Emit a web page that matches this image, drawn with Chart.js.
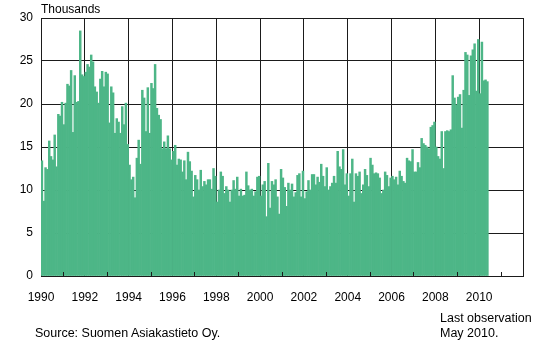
<!DOCTYPE html>
<html>
<head>
<meta charset="utf-8">
<script src="https://cdn.jsdelivr.net/npm/chart.js@4.4.0/dist/chart.umd.min.js"></script>
<style>
  html, body { margin: 0; padding: 0; background: #fff; }
  #wrap { position: relative; width: 548px; height: 344px; font-family: "Liberation Sans", Arial, sans-serif; color: #000; }
  #chart { position: absolute; left: 0; top: 0; }
  .note { position: absolute; font-size: 12.5px; line-height: 15px; white-space: nowrap; }
</style>
</head>
<body>
<div id="wrap">
  <canvas id="chart" width="548" height="344"></canvas>
  <div class="note" style="left:41px; top:2px; font-size:12px; line-height:14px;">Thousands</div>
  <div class="note" style="left:35px; top:326px;">Source: Suomen Asiakastieto Oy.</div>
  <div class="note" style="left:440px; top:311px;">Last observation<br>May 2010.</div>
</div>
<script>
// Monthly figures, thousands, Jan 1990 - May 2010
const v1990 = [13.4, 8.7, 12.6, 12.4, 15.7, 13.9, 13.5, 16.4, 12.7, 18.8, 18.6, 20.2];
const v1991 = [17.6, 20.1, 22.3, 22.1, 23.9, 16.7, 23.3, 20.2, 20.3, 28.5, 23.4, 23.2];
const v1992 = [23.7, 24.6, 24.3, 25.7, 24.9, 22.0, 21.4, 20.1, 22.9, 23.8, 22.0, 23.7];
const v1993 = [23.5, 17.8, 22.0, 21.3, 16.6, 18.3, 17.9, 16.6, 19.7, 17.6, 20.1, 15.3];
const v1994 = [12.9, 11.2, 11.5, 9.1, 13.7, 15.8, 13.0, 21.6, 20.7, 16.8, 21.9, 16.6];
const v1995 = [22.4, 21.8, 24.6, 19.5, 18.7, 18.2, 14.8, 15.6, 14.8, 16.3, 14.8, 13.5];
const v1996 = [14.5, 15.2, 12.9, 13.6, 13.5, 12.1, 13.4, 11.2, 14.4, 13.3, 12.2, 9.2];
const v1997 = [11.7, 11.2, 10.0, 12.3, 10.4, 11.0, 10.6, 11.2, 11.2, 10.1, 12.5, 11.6];
const v1998 = [8.6, 10.0, 12.1, 11.6, 9.6, 10.4, 10.0, 8.6, 10.0, 11.1, 10.1, 11.5];
const v1999 = [9.3, 10.1, 9.3, 9.4, 12.1, 10.5, 10.0, 10.1, 9.3, 9.8, 11.5, 11.6];
const v2000 = [9.3, 10.6, 11.0, 6.9, 13.1, 7.9, 11.0, 10.6, 11.2, 9.2, 7.2, 12.4];
const v2001 = [11.4, 10.3, 8.1, 10.8, 10.0, 10.7, 9.2, 9.7, 11.7, 11.9, 9.2, 12.2];
const v2002 = [9.0, 9.8, 11.1, 10.0, 11.8, 11.8, 10.6, 11.5, 10.9, 13.0, 11.6, 10.4];
const v2003 = [12.6, 10.0, 10.4, 10.8, 11.6, 10.8, 14.5, 12.7, 12.4, 14.7, 10.6, 11.9];
const v2004 = [9.3, 11.9, 13.6, 8.6, 11.9, 11.6, 12.1, 9.6, 10.6, 12.4, 11.7, 10.4];
const v2005 = [13.7, 12.9, 11.9, 12.0, 11.9, 11.4, 9.6, 10.0, 12.1, 11.7, 10.4, 11.4];
const v2006 = [11.6, 11.2, 11.5, 10.6, 12.2, 11.6, 11.0, 10.8, 13.7, 13.4, 13.3, 14.7];
const v2007 = [12.1, 12.1, 13.2, 12.6, 16.0, 15.4, 15.2, 15.0, 14.8, 17.3, 17.5, 17.9];
const v2008 = [15.0, 13.9, 13.6, 16.8, 12.5, 16.8, 16.9, 16.8, 17.0, 23.3, 20.7, 19.9];
const v2009 = [20.8, 21.1, 17.2, 21.6, 26.0, 25.7, 21.0, 25.6, 26.3, 27.0, 21.5, 27.5];
const v2010 = [21.2, 27.2, 22.7, 22.8, 22.6];

const startYear = 1990;
const endYear = 2012;
const lastLabelYear = 2010;
const yTicks = [0, 5, 10, 15, 20, 25, 30];

const monthly = [].concat(v1990, v1991, v1992, v1993, v1994, v1995, v1996, v1997,
  v1998, v1999, v2000, v2001, v2002, v2003, v2004, v2005, v2006, v2007, v2008, v2009, v2010);

// each bar sits in the middle of its month
const points = monthly.map((v, i) => ({ x: startYear + (i + 0.5) / 12, y: v }));

const tickFont = { family: '"Liberation Sans", Arial, sans-serif', size: 12 };
const lineColor = '#1b1b1b';

// short marks pointing up from the x axis at the odd years
const yearMarks = {
  id: 'yearMarks',
  afterDatasetsDraw(chart) {
    const xs = chart.scales.x;
    const bottom = chart.chartArea.bottom;
    const ctx = chart.ctx;
    ctx.save();
    ctx.strokeStyle = lineColor;
    ctx.lineWidth = 1;
    for (let y = startYear + 1; y < endYear; y += 2) {
      const px = Math.round(xs.getPixelForValue(y)) + 0.5;
      ctx.beginPath();
      ctx.moveTo(px, bottom);
      ctx.lineTo(px, bottom - 4);
      ctx.stroke();
    }
    ctx.restore();
  }
};

const ctx = document.getElementById('chart').getContext('2d');
const chart = new Chart(ctx, {
  type: 'bar',
  data: {
    datasets: [{
      data: points,
      backgroundColor: '#4db687',
      borderWidth: 0,
      barPercentage: 1,
      categoryPercentage: 1
    }]
  },
  options: {
    responsive: false,
    animation: false,
    layout: { padding: { top: 18, right: 25, bottom: 38, left: 0 } },
    plugins: {
      legend: { display: false },
      tooltip: { enabled: false }
    },
    scales: {
      x: {
        type: 'linear',
        min: startYear,
        max: endYear,
        offset: false,
        afterBuildTicks: scale => {
          const ticks = [];
          for (let y = startYear; y <= endYear; y++) ticks.push({ value: y });
          scale.ticks = ticks;
        },
        grid: {
          offset: false,
          drawTicks: false,
          lineWidth: 1,
          color: c => (c.tick && c.tick.value % 2 === 0) ? lineColor : 'rgba(0,0,0,0)'
        },
        border: { color: lineColor },
        ticks: {
          autoSkip: false,
          maxRotation: 0,
          padding: 14,
          color: '#000',
          font: tickFont,
          callback: v => (v % 2 === 0 && v <= lastLabelYear) ? String(v) : ''
        },
        afterFit: scale => { scale.height = 30; }
      },
      y: {
        min: yTicks[0],
        max: yTicks[yTicks.length - 1],
        afterBuildTicks: scale => { scale.ticks = yTicks.map(v => ({ value: v })); },
        grid: { color: lineColor, drawTicks: false, lineWidth: 1 },
        border: { color: lineColor },
        ticks: { padding: 8, color: '#000', font: tickFont },
        afterFit: scale => { scale.width = 41; }
      }
    }
  },
  plugins: [yearMarks]
});
</script>
</body>
</html>
